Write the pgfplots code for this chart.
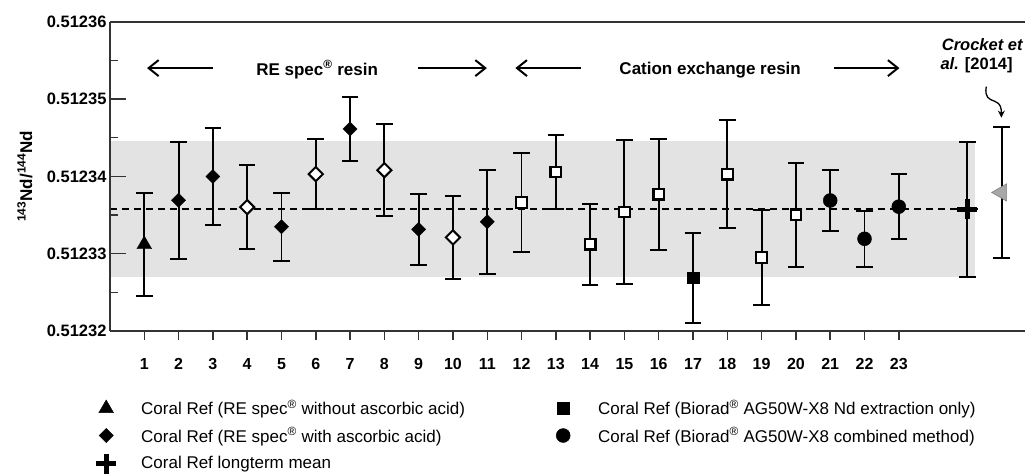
\documentclass[border=0pt]{standalone}
\usepackage{fontspec}
\setmainfont{Liberation Sans}
\usepackage{pgfplots}
\pgfplotsset{compat=1.18}
\usepackage{pgfplotstable}
\usetikzlibrary{arrows.meta}
\definecolor{axisgray}{HTML}{333333}
\definecolor{bandgray}{HTML}{E3E3E3}
\definecolor{trigray}{HTML}{A8A8A8}

% y = (143Nd/144Nd - 0.51232) x 10^5 ; e = error bar half-length, same units
\pgfplotstableread{
x y e
1 1.119 0.670
}\triA
\pgfplotstableread{
x y e
2 1.691 0.759
3 1.998 0.632
5 1.349 0.440
7 2.613 0.418
9 1.315 0.461
11 1.412 0.675
}\diaFilled
\pgfplotstableread{
x y e
4 1.602 0.541
6 2.029 0.455
8 2.080 0.593
10 1.210 0.541
}\diaOpen
\pgfplotstableread{
x y e
12 1.660 0.643
13 2.057 0.483
14 1.123 0.524
15 1.539 0.927
16 1.768 0.720
18 2.029 0.696
19 0.951 0.619
20 1.503 0.675
}\sqOpen
\pgfplotstableread{
x y e
17 0.690 0.582
}\sqFilled
\pgfplotstableread{
x y e
21 1.688 0.390
22 1.193 0.364
23 1.608 0.418
}\circFilled
\pgfplotstableread{
x y e
25 1.574 0.875
}\ltMean
\pgfplotstableread{
x y e
26 1.792 0.843
}\crocketData

\pgfplotsset{
  ebar/.style={only marks, mark=none, black, forget plot,
    error bars/y dir=both, error bars/y explicit,
    error bars/error bar style={line width=1.9pt, black},
    error bars/error mark options={rotate=90, line width=1.9pt, mark size=8.3pt, black}},
}

\begin{document}
\begin{tikzpicture}
\begin{axis}[
  scale only axis, width=915pt, height=309.3pt,
  xmin=0, xmax=26.68, ymin=0, ymax=4,
  axis x line*=bottom, axis y line=none,
  axis line style={line width=2pt, axisgray},
  xtick={1,2,3,4,5,6,7,8,9,10,11,12,13,14,15,16,17,18,19,20,21,22,23},
  xticklabels={1,2,3,4,5,6,7,8,9,10,11,12,13,14,15,16,17,18,19,20,21,22,23},
  tick align=outside, major tick length=9pt,
  tick style={line width=1.5pt, axisgray},
  xticklabel style={font=\fontsize{16}{19}\selectfont\bfseries, yshift=-15pt},
  clip=false,
  legend columns=2,
  legend cell align=left,
  legend style={draw=none, fill=none, at={(axis description cs:-0.047,-0.214)}, anchor=north west,
    font=\fontsize{17}{20}\selectfont, nodes={inner xsep=0pt, inner ysep=1pt}, row sep=9pt},
  legend image code/.code={\path[draw=none,fill=none] (-36pt,-6pt) rectangle (35pt,6pt); \draw[mark repeat=1,#1] plot coordinates {(0pt,0pt)};},
]
\addplot[fill=bandgray, draw=none, forget plot] coordinates {(0,0.702) (25.23,0.702) (25.23,2.458) (0,2.458)} -- cycle;
\addplot[black, line width=1.5pt, dash pattern=on 7pt off 5pt, forget plot] coordinates {(0,1.578) (25.3,1.578)};

% error bars first
\addplot[ebar] table[x=x,y=y,y error=e]{\triA};
\addplot[ebar] table[x=x,y=y,y error=e]{\sqFilled};
\addplot[ebar] table[x=x,y=y,y error=e]{\diaFilled};
\addplot[ebar] table[x=x,y=y,y error=e]{\circFilled};
\addplot[ebar] table[x=x,y=y,y error=e]{\ltMean};
\addplot[ebar] table[x=x,y=y,y error=e]{\diaOpen};
\addplot[ebar] table[x=x,y=y,y error=e]{\sqOpen};
\addplot[ebar] table[x=x,y=y,y error=e]{\crocketData};

% markers on top
\addplot[only marks, black, mark=triangle*, mark size=8.5pt, mark options={fill=black}] table[x=x,y=y]{\triA};
\addlegendentry{\makebox[386pt][l]{Coral Ref (RE spec\textsuperscript{®} without ascorbic acid)}}
\addplot[only marks, black, mark=square*, mark size=5.8pt, mark options={fill=black}] table[x=x,y=y]{\sqFilled};
\addlegendentry{Coral Ref (Biorad\textsuperscript{®} AG50W-X8 Nd extraction only)}
\addplot[only marks, black, mark=square*, mark size=5pt, mark options={rotate=45, fill=black}] table[x=x,y=y]{\diaFilled};
\addlegendentry{\makebox[386pt][l]{Coral Ref (RE spec\textsuperscript{®} with ascorbic acid)}}
\addplot[only marks, black, mark=*, mark size=7pt, mark options={fill=black}] table[x=x,y=y]{\circFilled};
\addlegendentry{Coral Ref (Biorad\textsuperscript{®} AG50W-X8 combined method)}
\addplot[only marks, black, mark=+, mark size=10pt, mark options={line width=4.8pt}] table[x=x,y=y]{\ltMean};
\addlegendentry{\makebox[386pt][l]{Coral Ref longterm mean}}

\addplot[only marks, black, mark=square*, mark size=5pt, mark options={rotate=45, fill=white, line width=2pt}, forget plot] table[x=x,y=y]{\diaOpen};
\addplot[only marks, black, mark=square*, mark size=5.3pt, mark options={fill=white, line width=2.2pt}, forget plot] table[x=x,y=y]{\sqOpen};
\addplot[only marks, black, mark=triangle*, mark size=10pt, mark options={rotate=90, fill=trigray, draw=gray, line width=0.6pt}, forget plot] table[x=x,y=y]{\crocketData};

% annotations
\draw[line width=1.5pt, -{Straight Barb[length=10pt,width=16pt,line width=2pt]}] (axis cs:3.01,3.40) -- (axis cs:1.08,3.40);
\draw[line width=1.5pt, -{Straight Barb[length=10pt,width=16pt,line width=2pt]}] (axis cs:8.99,3.40) -- (axis cs:10.99,3.40);
\draw[line width=1.5pt, -{Straight Barb[length=10pt,width=16pt,line width=2pt]}] (axis cs:13.73,3.40) -- (axis cs:11.82,3.40);
\draw[line width=1.5pt, -{Straight Barb[length=10pt,width=16pt,line width=2pt]}] (axis cs:21.12,3.40) -- (axis cs:23.02,3.40);
\node[font=\fontsize{17}{20}\selectfont\bfseries] at (axis cs:6.04,3.38) {RE spec\textsuperscript{®} resin};
\node[font=\fontsize{17}{20}\selectfont\bfseries] at (axis cs:17.50,3.38) {Cation exchange resin};
\node[anchor=west, inner sep=0pt, font=\fontsize{16.5}{20}\selectfont\bfseries\itshape] at (axis cs:24.25,3.70) {Crocket et};
\node[anchor=west, inner sep=0pt, font=\fontsize{16.5}{20}\selectfont\bfseries] at (axis cs:24.21,3.44) {\textit{al.} [2014]};
\draw[line width=1.3pt, -{Stealth[length=7pt,width=7pt]}] (axis cs:25.55,3.16) .. controls (axis cs:25.50,3.02) and (axis cs:25.62,3.00) .. (axis cs:25.80,2.97) .. controls (axis cs:25.98,2.94) and (axis cs:25.99,2.88) .. (axis cs:25.99,2.76);
% top frame line
\draw[line width=2pt, axisgray] (rel axis cs:0,1) -- (rel axis cs:1,1);
\end{axis}
\begin{axis}[
  scale only axis, width=915pt, height=309.3pt,
  xmin=0, xmax=26.68, ymin=0, ymax=4,
  axis y line*=left, axis x line=none,
  axis line style={line width=2pt, axisgray},
  ytick={0,1,2,3,4},
  yticklabels={0.51232,0.51233,0.51234,0.51235,0.51236},
  minor ytick={0.5,1.5,2.5,3.5},
  tick align=inside, major tick length=16pt, minor tick length=8pt,
  tick style={line width=1.5pt, axisgray},
  yticklabel style={font=\fontsize{16.5}{19}\selectfont\bfseries},
  ylabel={\textsuperscript{143}Nd/\textsuperscript{144}Nd},
  ylabel style={font=\fontsize{17}{20}\selectfont\bfseries, at={(axis description cs:-0.093,0.5)}, anchor=center},
]
\end{axis}
\pgfresetboundingbox
\path[use as bounding box] (-110pt,-143pt) rectangle (915pt,331pt);
\end{tikzpicture}
\end{document}
